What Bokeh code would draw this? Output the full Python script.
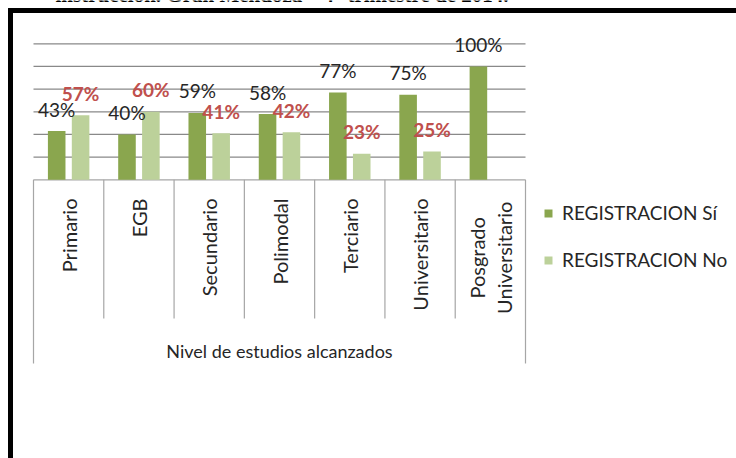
import math
from bokeh.plotting import figure
from bokeh.models import Range1d, ColumnDataSource, Legend, LegendItem
from bokeh.embed import file_html
from bokeh.resources import INLINE
from bokeh.core.properties import value
from bokeh.transform import dodge

# ---------------- data ----------------
categories = ["Primario", "EGB", "Secundario", "Polimodal", "Terciario",
              "Universitario", "Posgrado\nUniversitario"]
registracion_si = [43, 40, 59, 58, 77, 75, 100]
registracion_no = [57, 60, 41, 42, 23, 25, None]
grid_ticks = [20, 40, 60, 80, 100, 120]
series_names = ["REGISTRACION Sí", "REGISTRACION No"]
axis_title = "Nivel de estudios alcanzados"
doc_title = "instrucción. Gran Mendoza – 4° trimestre de 2014."

# ---------------- layout (canvas pixels) ----------------
W, H = 736, 458
PL, PR = 33, 525          # category axis left/right
PT, PB = 43.3, 179.3      # y of top gridline (120) and baseline (0)
y_max = 120
n = len(categories)
ux = (PR - PL) / n
uy = (PB - PT) / y_max

FONT = "Lato"
DARK = "#8aa64e"
LIGHT = "#bcd19a"
RED = "#c0504d"
TXT = "#262626"
GRID = "#898989"
TABLE = "#a6a6a6"

p = figure(width=W, height=H, output_backend="svg", toolbar_location=None,
           x_axis_location=None, y_axis_location=None, min_border=0,
           x_range=Range1d(-PL / ux, n + (W - PR) / ux),
           y_range=Range1d(-(H - PB) / uy, y_max + PT / uy))
p.grid.visible = False
p.outline_line_color = None
p.background_fill_color = "white"
p.border_fill_color = "white"

px_x = 1 / ux
px_y = 1 / uy
xs, xe = p.x_range.start, p.x_range.end
ys, ye = p.y_range.start, p.y_range.end

# document caption cut off above the box (as in the source page)
p.text(x=[xs + 55 * px_x], y=[ye + 6 * px_y], text=[doc_title],
       text_align="left", text_baseline="alphabetic", text_color="black",
       text_font=value("Liberation Serif"), text_font_size="21px",
       text_font_style="bold")

# black frame of the document box (left and top edges)
p.quad(left=[xs + 8 * px_x], right=[xs + 12 * px_x], bottom=[ys],
       top=[ye - 8 * px_y], color="black")
p.quad(left=[xs + 8 * px_x], right=[xe], bottom=[ye - 12 * px_y],
       top=[ye - 8 * px_y], color="black")

# gridlines
p.segment(x0=[0] * len(grid_ticks), x1=[n] * len(grid_ticks),
          y0=grid_ticks, y1=grid_ticks, line_color=GRID, line_width=1.2)
# baseline
p.segment(x0=[0], x1=[n], y0=[0], y1=[0], line_color=TABLE, line_width=1.2)

# table separators of the category axis
inner = list(range(1, n))
p.segment(x0=inner, x1=inner, y0=[0] * len(inner), y1=[-138.7 * px_y] * len(inner),
          line_color=TABLE, line_width=1.2)
p.segment(x0=[0, n], x1=[0, n], y0=[0, 0], y1=[-183.7 * px_y] * 2,
          line_color=TABLE, line_width=1.2)

# bars
idx = [i + 0.5 for i in range(n)]
src_si = ColumnDataSource(dict(x=idx, v=registracion_si,
                               lab=[f"{v}%" for v in registracion_si]))
no_x = [x for x, v in zip(idx, registracion_no) if v is not None]
no_v = [v for v in registracion_no if v is not None]
src_no = ColumnDataSource(dict(x=no_x, v=no_v, lab=[f"{v}%" for v in no_v]))

r_si = p.vbar(x=dodge("x", -0.17), top="v", bottom=0, width=0.25, source=src_si,
              fill_color=DARK, line_color=None)
r_no = p.vbar(x=dodge("x", 0.17), top="v", bottom=0, width=0.25, source=src_no,
              fill_color=LIGHT, line_color=None)

# value labels
p.text(x=dodge("x", -0.17), y="v", text="lab", source=src_si, y_offset=-22,
       text_align="center", text_baseline="alphabetic", text_color=TXT,
       text_font=value(FONT), text_font_size="19px")
p.text(x=dodge("x", 0.17), y="v", text="lab", source=src_no, y_offset=-22,
       text_align="center", text_baseline="alphabetic", text_color=RED,
       text_font=value(FONT), text_font_size="19px", text_font_style="bold")

# category labels (rotated)
single = [(x, c) for x, c in zip(idx, categories) if "\n" not in c]
multi = [(x, c) for x, c in zip(idx, categories) if "\n" in c]
p.text(x=[s[0] for s in single], y=[-18.7 * px_y] * len(single),
       text=[s[1] for s in single], angle=math.pi / 2,
       text_align="right", text_baseline="middle", text_color=TXT,
       text_font=value(FONT), text_font_size="20px")
p.text(x=[m[0] for m in multi], y=[-78 * px_y] * len(multi),
       text=[m[1] for m in multi], angle=math.pi / 2,
       text_align="center", text_baseline="middle", text_color=TXT,
       text_font=value(FONT), text_font_size="20px", text_line_height=1.1)

# axis title
p.text(x=[n / 2], y=[-170.7 * px_y], text=[axis_title], text_align="center",
       text_baseline="alphabetic", text_color=TXT, text_font=value(FONT),
       text_font_size="18px")

# legend
legend = Legend(items=[LegendItem(label=series_names[0], renderers=[r_si]),
                       LegendItem(label=series_names[1], renderers=[r_no])],
                location=(543, 187), orientation="vertical",
                glyph_width=10, glyph_height=10, label_height=20, spacing=24,
                label_standoff=9, padding=0, margin=0,
                border_line_color=None, background_fill_alpha=0,
                label_text_font=FONT, label_text_font_size="19px",
                label_text_color=TXT)
p.add_layout(legend, "center")

open("out.html", "w").write(file_html(p, INLINE))
